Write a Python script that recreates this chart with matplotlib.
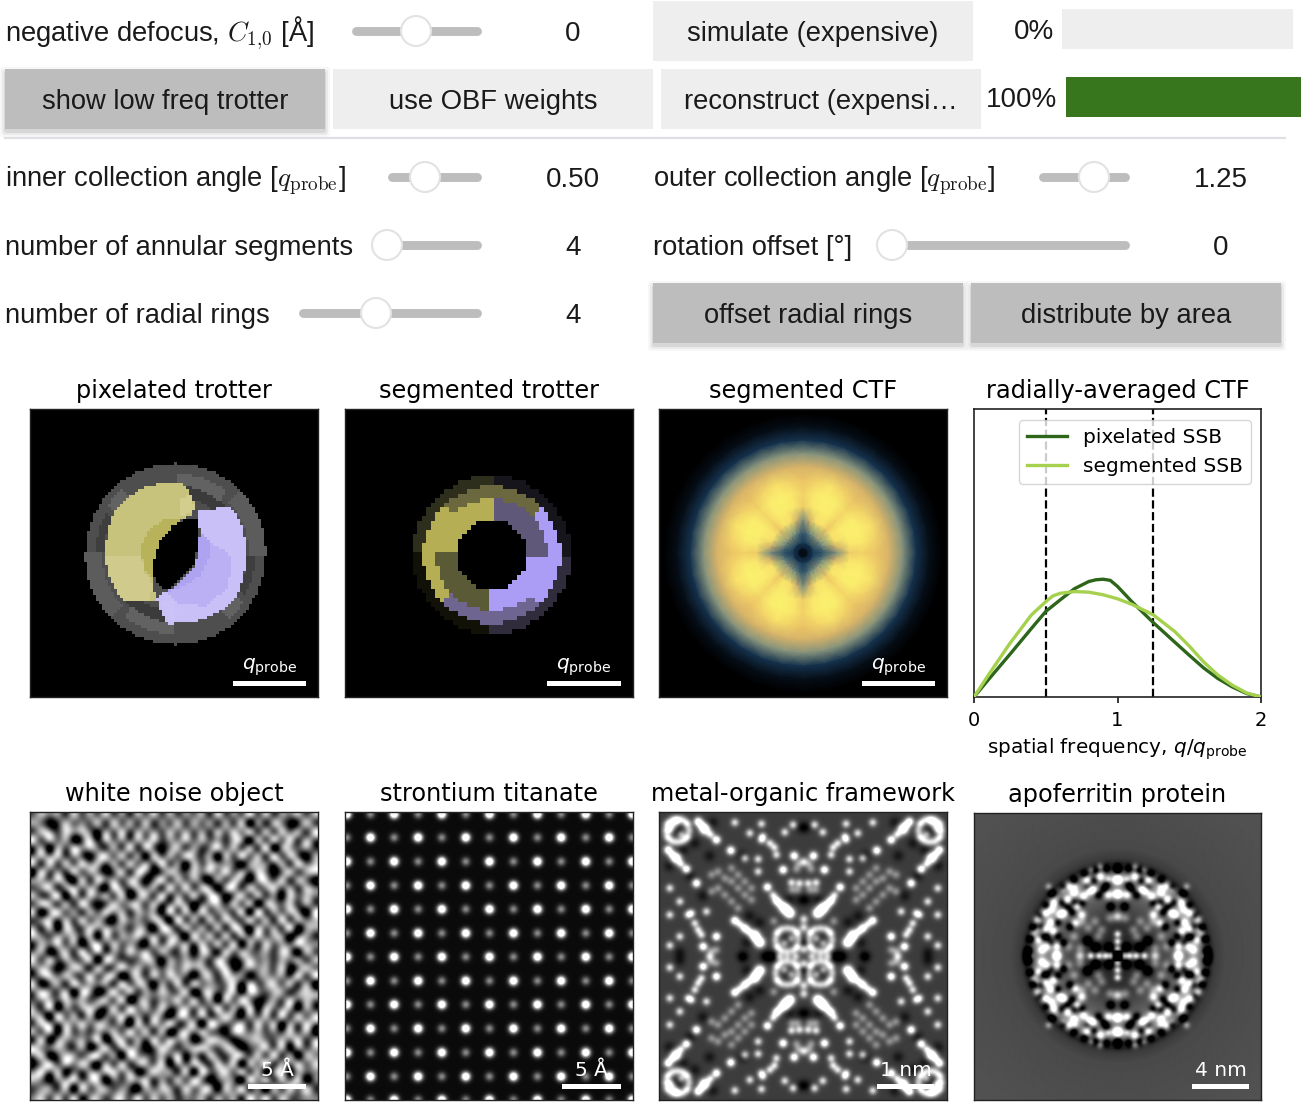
import matplotlib
matplotlib.use("Agg")
import matplotlib.pyplot as plt
import numpy as np
from matplotlib.colors import LinearSegmentedColormap, to_rgb
from matplotlib.patches import Rectangle, Circle, FancyBboxPatch
from matplotlib.path import Path

W, H = 1310, 1108
UI_FONT = "Liberation Sans"

# ---- radially averaged CTF
q_pix = [0, 0.1, 0.25, 0.4, 0.5, 0.6, 0.7, 0.8, 0.85, 0.9, 0.95, 1.0, 1.1, 1.25, 1.4, 1.5, 1.6, 1.7, 1.8, 1.9, 2.0]
ctf_pix = [0, 0.060, 0.148, 0.238, 0.297, 0.337, 0.376, 0.401, 0.407, 0.409, 0.405, 0.384, 0.331, 0.258, 0.190, 0.145, 0.101, 0.064, 0.035, 0.012, 0]
q_seg = [0, 0.1, 0.25, 0.4, 0.5, 0.55, 0.6, 0.7, 0.8, 0.9, 1.0, 1.1, 1.25, 1.4, 1.5, 1.6, 1.7, 1.8, 1.9, 2.0]
ctf_seg = [0, 0.076, 0.186, 0.285, 0.331, 0.351, 0.360, 0.366, 0.364, 0.355, 0.341, 0.322, 0.285, 0.227, 0.177, 0.122, 0.076, 0.041, 0.014, 0]
collection_angles = [0.5, 1.25]

# ---- controls
slider_labels = ["negative defocus, $C_{1{,}0}$ [Å]", r"inner collection angle [$q_{\mathrm{probe}}$]",
                 "number of annular segments", "number of radial rings",
                 r"outer collection angle [$q_{\mathrm{probe}}$]", "rotation offset [°]"]
slider_label_x = [5, 5, 5, 5, 653, 653]
slider_y = [31, 177, 245, 313, 177, 245]
slider_start = [352, 388, 372, 299, 1039, 877]
slider_end = [481, 481, 481, 481, 1129, 1129]
slider_handle = [416, 425, 387, 376, 1094, 892]
slider_values = ["0", "0.50", "4", "4", "1.25", "0"]
slider_value_x = [573, 573, 573, 573, 1221, 1221]

button_labels = ["simulate (expensive)", "show low freq trotter", "use OBF weights",
                 "reconstruct (expensi…", "offset radial rings", "distribute by area"]
button_x0 = [653, 5, 333, 661, 653, 971]
button_x1 = [973, 325, 653, 981, 963, 1281]
button_y0 = [1, 69, 69, 69, 283, 283]
button_on = [False, True, False, False, True, True]

# ---- trotter panels: sectors are (r0, r1, angle0, angle1, colour), polygons in 864-unit panel coords
pix_disk_r = 270
pix_sectors = [(205, 240, 50, 90, "#626262"), (170, 205, 40, 90, "#3b3b3b"), (220, 271, 0, 45, "#5c5c5c"),
               (215, 240, -30, 0, "#3e3e3e"), (220, 250, -50, -35, "#626262"),
               (205, 240, 230, 270, "#626262"), (170, 205, 220, 270, "#3b3b3b"), (220, 271, 180, 225, "#5c5c5c"),
               (215, 240, 150, 180, "#3e3e3e"), (220, 250, 130, 145, "#626262")]
yellow_lobe = [(460, 224), (480, 257), (498, 302), (480, 322), (450, 334), (410, 382), (380, 427), (370, 462),
               (370, 532), (378, 572), (355, 577), (280, 577), (255, 542), (232, 492), (225, 437), (232, 367),
               (255, 307), (300, 262), (355, 234), (410, 224)]
yellow_inner = [(450, 334), (410, 382), (380, 427), (370, 462), (370, 512), (340, 482), (335, 412), (355, 367), (400, 337)]
yellow_top = [(445, 275), (480, 262), (498, 302), (450, 327)]
yellow_low = [(225, 437), (335, 437), (340, 482), (370, 532), (355, 577), (280, 577), (255, 542), (232, 492)]
purple_lobe = [(505, 307), (600, 297), (620, 322), (642, 372), (650, 432), (642, 502), (620, 562), (580, 602),
               (530, 627), (470, 642), (415, 644), (395, 612), (378, 567), (410, 547), (450, 522), (490, 482),
               (505, 432), (510, 382)]
purple_mid = [(540, 402), (605, 442), (595, 532), (530, 592), (440, 582), (410, 547), (450, 537), (510, 502), (535, 452)]
purple_inner = [(510, 367), (540, 402), (535, 452), (510, 502), (450, 537), (410, 547), (450, 522), (490, 482), (505, 432)]
purple_tip = [(395, 572), (430, 580), (440, 632), (415, 644)]
lens_hole = [(470, 332), (500, 337), (505, 382), (505, 412), (490, 472), (450, 512), (410, 542), (390, 532),
             (370, 502), (370, 462), (390, 402), (430, 352)]

seg_sectors = [(105, 165, 90, 180, "#b5ae55"), (105, 165, 0, 90, "#5f5878"),
               (105, 165, 270, 360, "#ab9cf5"), (105, 165, 180, 270, "#5b5a36"),
               (165, 205, 45, 135, "#6b6840"), (165, 205, 135, 225, "#b5ae55"),
               (165, 205, 225, 315, "#6e6690"), (165, 205, 315, 360, "#ab9cf5"), (165, 205, 0, 45, "#ab9cf5"),
               (205, 236, 90, 180, "#2e2e1c"), (205, 236, 0, 90, "#15151b"),
               (205, 236, 270, 360, "#302c3c"), (205, 236, 180, 270, "#111108")]

# ---- segmented CTF: values per radius (rows) and angle from the axis (columns)
ctf_radii = [0, 15, 30, 60, 100, 140, 180, 220, 260, 300, 340, 380, 420, 640]
ctf_angles = [0, 11, 22, 34, 45]
ctf_table = [[0.00, 0.00, 0.00, 0.00, 0.00],
             [0.12, 0.12, 0.12, 0.12, 0.12],
             [0.25, 0.25, 0.25, 0.25, 0.25],
             [0.33, 0.36, 0.42, 0.46, 0.50],
             [0.45, 0.64, 0.85, 0.88, 0.76],
             [0.78, 0.92, 0.98, 0.96, 0.82],
             [0.80, 0.94, 1.00, 0.97, 0.82],
             [0.74, 0.80, 0.86, 0.80, 0.74],
             [0.66, 0.66, 0.66, 0.66, 0.66],
             [0.47, 0.47, 0.47, 0.47, 0.47],
             [0.22, 0.22, 0.22, 0.22, 0.22],
             [0.06, 0.06, 0.06, 0.06, 0.06],
             [0.00, 0.00, 0.00, 0.00, 0.00],
             [0.00, 0.00, 0.00, 0.00, 0.00]]
ctf_cmap_colors = ["#000000", "#0f2238", "#1b4060", "#6f8a80", "#b9a672", "#e8bc64", "#f8e06a", "#fbf06e"]

# ---- white noise object, brightness 0-9 read on a coarse grid
noise_rows = """574638 475846 375847 465738 465847 364758
750285 647385 748365 847563 748052 760285
487396 850749 385748 584738 596837 485739
948570 391857 486937 695847 396074 859374
370849 685374 938506 847369 584739 068473
586937 407958 460847 598370 849573 948506
739485 968374 857394 608495 730685 373958
094738 576048 396048 739586 947396 058479
685940 839574 870594 857306 485079 483760
479368 574096 485739 594860 793856 947385
846907 385749 068493 748397 058473 609485
598473 950486 794835 860479 385706 849374
807956 374968 385709 483956 748093 758609
469384 857309 574860 947385 964857 394758
738095 496857 384097 385748 396085 749068
954768 380947 695748 509684 837495 860473
385947 069485 730849 673958 480739 574986
670483 958374 968475 380962 857648 396075
948375 680974 359607 485739 604957 385748
586049 738459 684738 596847 903768 490586
379586 495870 493859 740683 975048 673949
804739 685739 586074 938574 690847 958370
596480 970496 837495 680493 780964 873596
478395 846859 048376 958370 859603 749485
739064 795384 968493 685749 473908 568073
860957 380469 573850 794836 950748 394858
497386 958746 094869 358097 468395 807495
758094 637485 968370 495863 079584 639480
380675 849069 473958 670498 503796 485937
964853 705837 860497 358974 860379 580648
580397 489460 975384 906285 397485 936078
079486 950748 368590 748639 580769 374859
694805 376895 704986 380947 958470 590746
850679 489053 869374 859603 740968 385904
476380 958746 308597 496870 869350 749683
695847 368579 485968 375846 574968 586475""".split("\n")

# ---- strontium titanate columns, 864-unit panel coords
sto_x_a = [-70, 75, 218, 361, 504, 647, 791]
sto_x_b = [4, 146, 289, 432, 576, 721, 861]
sto_y_odd = [75, 219, 362, 505, 648, 792]
sto_y_even = [5, 147, 290, 433, 576, 720, 862]

# ---- metal-organic framework, upper-left quadrant in 864-unit panel coords, mirrored about the centre
mof_centre = (433, 432)
mof_big = [(391, 302), (301, 390), (136, 50), (50, 137), (374, 285), (285, 368)]
mof_strong = [(214, 114), (111, 212), (324, 224), (226, 324), (351, 264), (256, 347), (171, 82), (81, 170),
              (116, 27), (26, 112), (371, 172), (404, 130), (131, 402), (171, 372)]
mof_medium = [(376, 59), (401, 37), (226, 30), (271, 62), (306, 34), (256, 137), (296, 140), (296, 177),
              (396, 210), (420, 212), (31, 227), (61, 267), (31, 307), (86, 307), (141, 297), (116, 352),
              (31, 399), (61, 372), (31, 52), (51, 27), (306, 82), (331, 92),
              (351, 127), (96, 302), (106, 332), (126, 367), (310, 72), (345, 105),
              (381, 293), (361, 274), (341, 248), (291, 378), (268, 357), (241, 335),
              (153, 66), (126, 38), (64, 154), (37, 125)]
mof_ring_a = [(348, 382), (351, 365), (356, 357), (367, 349), (383, 347), (399, 349), (411, 357), (415, 365),
              (418, 382), (415, 399), (411, 407), (399, 415), (383, 417), (367, 415), (356, 407), (351, 399),
              (19, 54), (22, 37), (29, 29), (40, 21), (54, 19), (68, 21), (79, 29), (86, 37),
              (89, 54), (86, 71), (79, 79), (68, 87), (54, 89), (40, 87), (29, 79), (22, 71),
              (395, 378), (375, 392), (41, 41), (65, 66)]
mof_faint = [(156, 187), (176, 177), (196, 197), (216, 207), (236, 227), (256, 247), (276, 262), (216, 167),
             (236, 187), (176, 227), (196, 247), (216, 267), (236, 287), (256, 207), (276, 227), (156, 237),
             (411, 170), (417, 154), (433, 148), (171, 412), (151, 432), (155, 416), (397, 232),
             (415, 232), (343, 326), (433, 320), (433, 345), (408, 432), (433, 410), (385, 432), (360, 432)]
mof_dark = [(71, 112), (106, 92), (270, 310), (300, 330), (426, 262), (390, 262), (430, 390), (390, 432),
            (343, 430), (320, 432), (250, 432), (262, 390), (426, 45), (61, 420), (91, 190), (150, 130),
            (30, 160), (160, 30), (54, 54), (383, 382), (130, 250), (250, 130)]

# ---- apoferritin, upper-left quadrant in 864-unit panel coords, mirrored about the centre
apo_centre = (431, 430)
apo_profile_r = [0, 60, 110, 170, 230, 255, 278, 295, 325, 640]
apo_profile_v = [0.13, 0.16, 0.20, 0.36, 0.55, 0.46, 0.17, 0.24, 0.29, 0.33]
apo_white = [(403, 247), (433, 245), (248, 402), (248, 432), (238, 272), (258, 307), (308, 282),
             (323, 307), (338, 202), (378, 192), (428, 202), (358, 232), (328, 252), (243, 252), (213, 302),
             (213, 347), (193, 382), (203, 412), (238, 357), (283, 222), (303, 332), (280, 262), (190, 320),
             (230, 290), (300, 240), (345, 235), (270, 300), (220, 400), (230, 330)]
apo_mid = [(431, 387), (395, 430), (431, 365), (375, 430), (350, 430), (431, 410), (413, 430), (403, 200),
           (378, 162), (353, 172), (303, 222), (223, 222), (268, 232), (178, 362), (168, 432), (188, 352)]
apo_grey = [(408, 317), (431, 312), (318, 407), (318, 430), (343, 347), (373, 372), (323, 327), (363, 327),
            (383, 352), (300, 372), (283, 402)]
apo_dark = [(278, 284), (293, 298), (263, 270), (373, 247), (398, 217), (323, 272), (288, 342), (268, 392),
            (228, 392), (218, 372), (203, 342), (431, 430), (405, 405), (365, 405), (340, 385), (410, 282),
            (431, 170), (398, 170), (364, 175), (332, 186), (300, 203), (270, 225), (243, 250), (218, 280),
            (197, 312), (180, 346), (170, 380), (163, 414), (163, 430),
            (300, 270), (250, 330), (340, 225), (390, 230), (250, 370), (205, 375), (235, 245), (360, 205)]

# ---- scale bars and labels
bar_x0 = [233, 547, 862, 248, 562, 877, 1192]
bar_x1 = [306, 621, 935, 306, 621, 934, 1249]
bar_y = [683.5, 683.5, 683.5, 1086, 1086, 1086, 1086]
bar_labels = [r"$q_{\mathrm{probe}}$", r"$q_{\mathrm{probe}}$", r"$q_{\mathrm{probe}}$", "5 Å", "5 Å", "1 nm", "4 nm"]

top_titles = ["pixelated trotter", "segmented trotter", "segmented CTF", "radially-averaged CTF"]
bottom_titles = ["white noise object", "strontium titanate", "metal-organic framework", "apoferritin protein"]
panel_x0 = [30, 344, 659, 974]
panel_x1 = [318, 633, 947, 1261]
TITLE_SIZE = 17.3
TITLE_PAD = 7.8


def px_axes(fig, x0, y0, x1, y1, **kw):
    return fig.add_axes([x0 / W, 1 - y1 / H, (x1 - x0) / W, (y1 - y0) / H], **kw)


def style_image_axes(ax, title):
    ax.set_xticks([])
    ax.set_yticks([])
    ax.set_title(title, fontsize=TITLE_SIZE, pad=TITLE_PAD)
    for s in ax.spines.values():
        s.set_color("#222222")
        s.set_linewidth(1.0)


def grid_polar(n):
    # n x n detector on 864 units, centred on a pixel
    cell = 864 / n
    c = (np.arange(n) + 0.5) * cell
    xx, yy = np.meshgrid(c, c)
    mid = (n // 2 + 0.5) * cell
    dx = xx - mid
    dy = mid - yy
    return xx, yy, np.hypot(dx, dy), np.degrees(np.arctan2(dy, dx)) % 360


def paint_sectors(img, sectors):
    xx, yy, r, a = grid_polar(img.shape[0])
    for r0, r1, a0, a1, col in sectors:
        a0, a1 = a0 % 360, a1 % 360 if a1 % 360 != 0 else 360
        if a0 > a1:
            ang = (a >= a0) | (a < a1)
        else:
            ang = (a >= a0) & (a < a1)
        img[(r >= r0) & (r < r1) & ang] = to_rgb(col)


def paint_poly(img, poly, col):
    xx, yy, r, a = grid_polar(img.shape[0])
    inside = Path(poly).contains_points(np.c_[xx.ravel(), yy.ravel()]).reshape(xx.shape)
    img[inside] = to_rgb(col)


def splat(img, pts, sigma, amp, centre=None):
    # add soft blobs to a 288 px image, optionally mirrored about centre
    yy, xx = np.mgrid[0:288, 0:288]
    for x, y in pts:
        copies = [(x, y)]
        if centre is not None:
            mx, my = 2 * centre[0] - x, 2 * centre[1] - y
            copies = [(x, y), (mx, y), (x, my), (mx, my)]
        for cx, cy in copies:
            img += amp * np.exp(-((xx - cx / 3) ** 2 + (yy - cy / 3) ** 2) / (2 * sigma ** 2))
    return img


fig = plt.figure(figsize=(W / 100, H / 100), dpi=100, facecolor="white")

# ---- top panels
ax = px_axes(fig, panel_x0[0], 409, panel_x1[0], 697)
img = np.zeros((96, 96, 3))
xx, yy, rr, aa = grid_polar(96)
img[rr <= pix_disk_r] = to_rgb("#4e4e4e")
paint_sectors(img, pix_sectors)
paint_poly(img, yellow_lobe, "#c8c37c")
paint_poly(img, yellow_low, "#d0cb8c")
paint_poly(img, yellow_top, "#d3ce8e")
paint_poly(img, yellow_inner, "#b8b25a")
paint_poly(img, purple_lobe, "#c8c0f6")
paint_poly(img, purple_mid, "#bab0f3")
paint_poly(img, purple_inner, "#aea3f1")
paint_poly(img, purple_tip, "#cbc3f7")
paint_poly(img, lens_hole, "#000000")
ax.imshow(img, interpolation="nearest")
style_image_axes(ax, top_titles[0])

ax = px_axes(fig, panel_x0[1], 409, panel_x1[1], 697)
img = np.zeros((64, 64, 3))
paint_sectors(img, seg_sectors)
ax.imshow(img, interpolation="nearest")
style_image_axes(ax, top_titles[1])

ax = px_axes(fig, panel_x0[2], 409, panel_x1[2], 697)
cmap = LinearSegmentedColormap.from_list("ctf", ctf_cmap_colors)
table = np.array(ctf_table)
quarter = np.hstack([table, table[:, -2::-1]])
full = np.hstack([quarter[:, :-1]] * 4 + [quarter[:, :1]])
octant = np.array(ctf_angles, float)
step = np.r_[octant, 90 - octant[-2::-1]]
theta = np.radians(np.concatenate([step[:-1] + 90 * i for i in range(4)] + [[360.0]]))
R, T = np.meshgrid(ctf_radii, theta, indexing="ij")
ax.set_facecolor("black")
ax.pcolormesh(432 + R * np.cos(T), 432 - R * np.sin(T), full, cmap=cmap, vmin=0, vmax=1,
              shading="gouraud", rasterized=True)
ax.set_xlim(0, 864)
ax.set_ylim(864, 0)
style_image_axes(ax, top_titles[2])

ax = px_axes(fig, panel_x0[3], 409, panel_x1[3], 697)
for a in collection_angles:
    ax.axvline(a, color="black", ls="--", lw=1.6, zorder=1)
ax.plot(q_pix, ctf_pix, color="#2d661b", lw=2.4, label="pixelated SSB", zorder=2)
ax.plot(q_seg, ctf_seg, color="#a6d14e", lw=2.4, label="segmented SSB", zorder=3)
ax.set_xlim(0, 2)
ax.set_ylim(0, 1)
ax.set_xticks([0, 1, 2])
ax.set_yticks([])
ax.tick_params(labelsize=14, length=4.5, width=1.1, pad=5.5)
ax.set_xlabel(r"spatial frequency, $q/q_{\mathrm{probe}}$", fontsize=14.4, labelpad=5)
ax.set_title(top_titles[3], fontsize=TITLE_SIZE, pad=TITLE_PAD)
ax.legend(loc="upper right", fontsize=14.5, bbox_to_anchor=(0.965, 0.962), borderaxespad=0)
for s in ax.spines.values():
    s.set_color("#222222")
    s.set_linewidth(1.2)

# ---- bottom panels
ax = px_axes(fig, panel_x0[0], 812, panel_x1[0], 1100)
noise = np.array([[int(c) for c in row.replace(" ", "")] for row in noise_rows], float)
# take out the slow variation of the coarse reading so only the fine grain is left
pad = np.pad(noise, 2, mode="edge")
local = sum(np.roll(np.roll(pad, i, 0), j, 1) for i in range(-2, 3) for j in range(-2, 3))[2:-2, 2:-2] / 25
grain = noise - 0.9 * local
ax.imshow(grain, cmap="gray", vmin=grain.mean() - 1.9 * grain.std(), vmax=grain.mean() + 2.0 * grain.std(),
          interpolation="lanczos")
style_image_axes(ax, bottom_titles[0])

ax = px_axes(fig, panel_x0[1], 812, panel_x1[1], 1100)
img = np.full((288, 288), 0.04)
for xs, ys, amp, sig in [(sto_x_a, sto_y_odd, 1.5, 3.1), (sto_x_b, sto_y_even, 1.5, 3.1),
                         (sto_x_b, sto_y_odd, 0.5, 3.0), (sto_x_a, sto_y_even, 0.5, 3.0)]:
    splat(img, [(x, y) for x in xs for y in ys], sig, amp)
ax.imshow(img, cmap="gray", vmin=0, vmax=1)
style_image_axes(ax, bottom_titles[1])

ax = px_axes(fig, panel_x0[2], 812, panel_x1[2], 1100)
img = np.full((288, 288), 0.24)
splat(img, mof_dark, 4.0, -0.15, mof_centre)
splat(img, mof_faint, 3.0, 0.30, mof_centre)
splat(img, mof_ring_a, 2.8, 0.45, mof_centre)
splat(img, mof_medium, 2.8, 0.62, mof_centre)
splat(img, mof_strong, 3.0, 0.95, mof_centre)
splat(img, mof_big, 3.6, 1.2, mof_centre)
ax.imshow(img, cmap="gray", vmin=0, vmax=1)
style_image_axes(ax, bottom_titles[2])

ax = px_axes(fig, panel_x0[3], 812, panel_x1[3], 1100)
yy, xx = np.mgrid[0:288, 0:288]
rad = np.hypot(xx - apo_centre[0] / 3, yy - apo_centre[1] / 3) * 3
img = np.interp(rad, apo_profile_r, apo_profile_v)
splat(img, apo_dark, 3.0, -0.55, apo_centre)
splat(img, apo_grey, 3.2, 0.30, apo_centre)
splat(img, apo_mid, 2.4, 0.38, apo_centre)
splat(img, apo_white, 3.0, 0.7, apo_centre)
ax.imshow(img, cmap="gray", vmin=0, vmax=1)
style_image_axes(ax, bottom_titles[3])

# ---- overlay in screen pixels for the controls and scale bars
ui = fig.add_axes([0, 0, 1, 1], zorder=10)
ui.set_xlim(0, W)
ui.set_ylim(H, 0)
ui.axis("off")
ui.patch.set_alpha(0)

UI_SIZE = 20
LABEL_SIZE = 19.7
for x0, x1, y0, label, on in zip(button_x0, button_x1, button_y0, button_labels, button_on):
    h = 60
    if on:
        for grow, al in [(5, 0.03), (3, 0.05), (1, 0.08)]:
            ui.add_patch(FancyBboxPatch((x0 - grow, y0 - grow + 3), x1 - x0 + 2 * grow, h + 2 * grow,
                                        boxstyle="round,pad=0,rounding_size=3", fc="black", ec="none", alpha=al))
    ui.add_patch(Rectangle((x0, y0), x1 - x0, h, fc="#bdbdbd" if on else "#eeeeee", ec="none"))
    ui.text((x0 + x1) / 2, y0 + h / 2 + 3, label, ha="center", va="center", fontsize=LABEL_SIZE,
            family=UI_FONT, color="#1a1a1a")

ui.add_patch(Rectangle((1062, 9), 231, 40, fc="#eeeeee", ec="none"))
ui.add_patch(Rectangle((1066, 77), 235, 40, fc="#38761d", ec="none"))
ui.text(1054, 32, "0%", ha="right", va="center", fontsize=UI_SIZE, family=UI_FONT, color="#1a1a1a")
ui.text(1057, 100, "100%", ha="right", va="center", fontsize=UI_SIZE, family=UI_FONT, color="#1a1a1a")
ui.plot([5, 1285], [138, 138], color="#e0e0e4", lw=1.6)

for lab, lx, y, x0, x1, hx, val, vx in zip(slider_labels, slider_label_x, slider_y, slider_start, slider_end,
                                           slider_handle, slider_values, slider_value_x):
    ui.text(lx, y + 10, lab, ha="left", va="baseline", fontsize=LABEL_SIZE, family=UI_FONT, color="#1a1a1a",
            math_fontfamily="cm")
    ui.plot([x0 + 4, x1 - 4], [y, y], color="#bdbdbd", lw=6.4, solid_capstyle="round")
    ui.add_patch(Circle((hx, y), 15, fc="white", ec="#e2e2e2", lw=1.5, zorder=5))
    ui.text(vx, y + 3, val, ha="center", va="center", fontsize=UI_SIZE, family=UI_FONT, color="#1a1a1a")

for x0, x1, y, lab in zip(bar_x0, bar_x1, bar_y, bar_labels):
    ui.add_patch(Rectangle((x0, y - 2.5), x1 - x0, 5, fc="white", ec="none"))
    ui.text((x0 + x1) / 2, y - 6, lab, ha="center", va="bottom", fontsize=14.5, color="white")

fig.savefig("out.png", dpi=100)
